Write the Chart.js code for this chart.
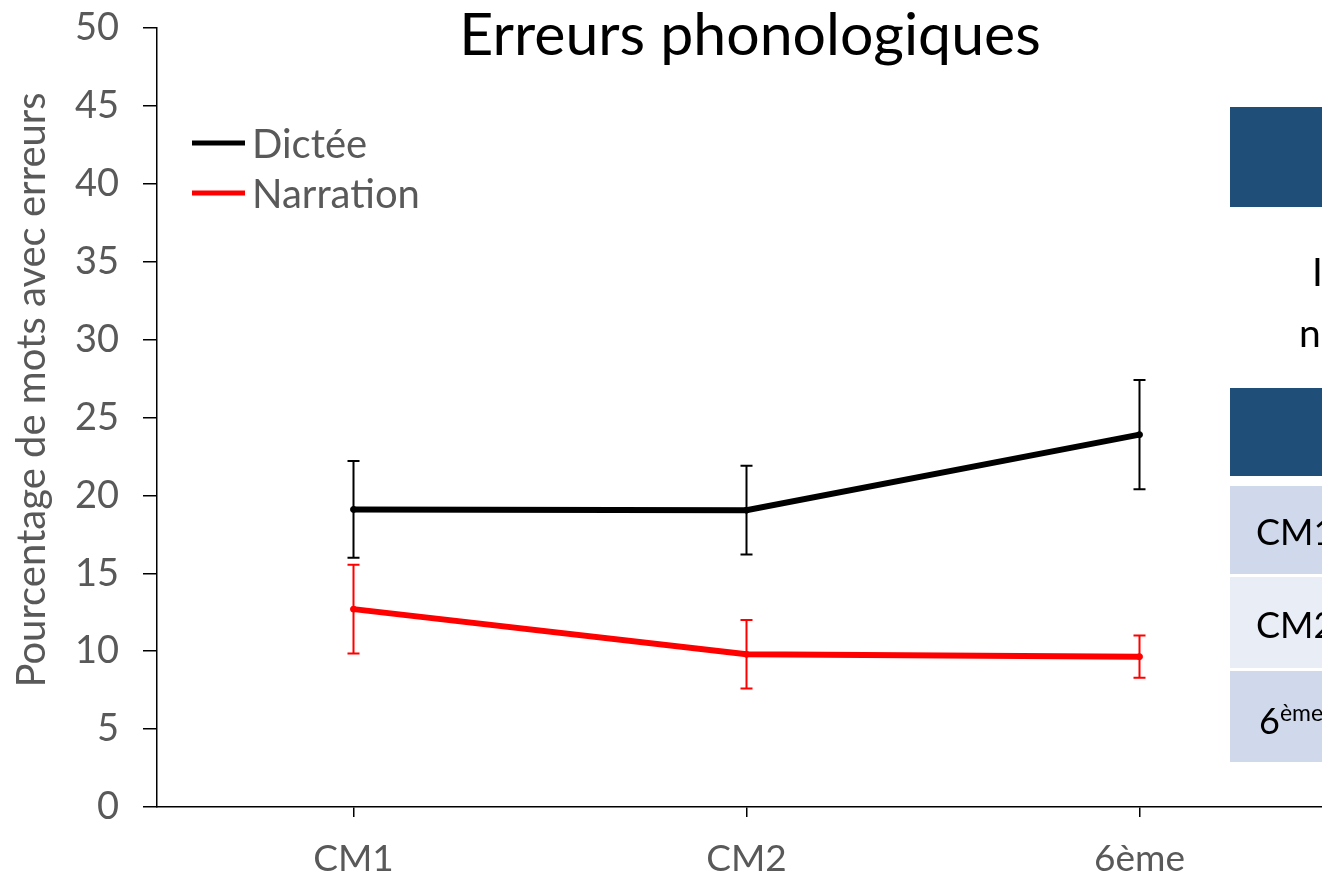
<!DOCTYPE html>
<html lang="fr">
<head>
<meta charset="utf-8">
<script src="https://cdn.jsdelivr.net/npm/chart.js@4.4.1/dist/chart.umd.min.js"></script>
<style>
    html, body { margin: 0; padding: 0; background: #fff; overflow: hidden; width: 1322px; height: 880px; }
    #wrap { position: absolute; left: 0; top: 0; width: 1340px; height: 880px; }
    .panel { position: absolute; font-family: Lato, sans-serif; color: #000; white-space: nowrap; }
    .dark { background: #1f4e79; }
    .rowA { background: #cfd9eb; }
    .rowB { background: #e9edf5; }
    .cell { font-size: 36px; line-height: 1; }
    sup { font-size: 23px; }
</style>
</head>
<body>
<div id="wrap">
    <canvas id="phonoChart" width="1340" height="880"></canvas>
</div>

<!-- side table, cut off at the page edge -->
<div class="panel dark" style="left:1230px; top:107px; width:120px; height:100px;"></div>
<div class="panel cell" style="left:1312px; top:252px; font-size:39px;">Informations</div>
<div class="panel cell" style="left:1299px; top:313px; font-size:39px;">n = 30</div>
<div class="panel dark" style="left:1230px; top:388px; width:120px; height:88px;"></div>
<div class="panel rowA" style="left:1230px; top:486px; width:120px; height:88px;"></div>
<div class="panel rowB" style="left:1230px; top:577px; width:120px; height:91px;"></div>
<div class="panel rowA" style="left:1230px; top:671px; width:120px; height:91px;"></div>
<div class="panel cell" style="left:1256px; top:513px;">CM1</div>
<div class="panel cell" style="left:1256px; top:606px;">CM2</div>
<div class="panel cell" style="left:1259px; top:701px;">6<sup>ème</sup></div>

<script>
const niveaux = ["CM1", "CM2", "6ème"];
const dictee = [19.1, 19.05, 23.9];
const dicteeErr = [3.1, 2.85, 3.5];
const narration = [12.7, 9.8, 9.65];
const narrationErr = [2.85, 2.2, 1.35];
const yTicks = [0, 5, 10, 15, 20, 25, 30, 35, 40, 45, 50];

const GREY = '#595959';
const FONT = 'Lato, sans-serif';

// vertical error bars with small caps
const errorBars = {
    id: 'errorBars',
    afterDatasetsDraw(chart) {
        const ctx = chart.ctx;
        const x = chart.scales.x, y = chart.scales.y;
        chart.data.datasets.forEach(ds => {
            ctx.save();
            ctx.strokeStyle = ds.borderColor;
            ctx.lineWidth = 2;
            ds.data.forEach((v, i) => {
                const px = x.getPixelForValue(i);
                const top = y.getPixelForValue(v + ds.errors[i]);
                const bot = y.getPixelForValue(v - ds.errors[i]);
                ctx.beginPath();
                ctx.moveTo(px, top); ctx.lineTo(px, bot);
                ctx.moveTo(px - 6, top); ctx.lineTo(px + 6, top);
                ctx.moveTo(px - 6, bot); ctx.lineTo(px + 6, bot);
                ctx.stroke();
            });
            ctx.restore();
        });
    }
};

// title, y-axis title and legend drawn by hand
const decorations = {
    id: 'decorations',
    afterDraw(chart) {
        const ctx = chart.ctx;
        ctx.save();
        ctx.fillStyle = '#000';
        ctx.font = `59px ${FONT}`;
        ctx.textAlign = 'center';
        ctx.textBaseline = 'middle';
        ctx.fillText('Erreurs phonologiques', 750, 36);

        ctx.save();
        ctx.translate(32, 390);
        ctx.rotate(-Math.PI / 2);
        ctx.fillStyle = GREY;
        ctx.font = `40px ${FONT}`;
        ctx.fillText('Pourcentage de mots avec erreurs', 0, 0);
        ctx.restore();

        ctx.textAlign = 'left';
        ctx.font = `40px ${FONT}`;
        chart.data.datasets.forEach((ds, i) => {
            const ly = 143 + i * 50;
            ctx.strokeStyle = ds.borderColor;
            ctx.lineWidth = 5;
            ctx.beginPath();
            ctx.moveTo(192, ly); ctx.lineTo(245, ly);
            ctx.stroke();
            ctx.fillStyle = GREY;
            ctx.fillText(ds.label, 252, ly + 2);
        });
        ctx.restore();
    }
};

new Chart(document.getElementById('phonoChart'), {
    type: 'line',
    data: {
        labels: niveaux,
        datasets: [
            { label: 'Dictée', data: dictee, errors: dicteeErr, borderColor: '#000', backgroundColor: '#000' },
            { label: 'Narration', data: narration, errors: narrationErr, borderColor: '#ff0000', backgroundColor: '#ff0000' }
        ]
    },
    options: {
        responsive: false,
        animation: false,
        layout: { padding: { top: 28, left: 0, right: 4, bottom: 0 } },
        elements: {
            line: { borderWidth: 6, tension: 0 },
            point: { radius: 3, hoverRadius: 3 }
        },
        plugins: {
            legend: { display: false },
            title: { display: false },
            tooltip: { enabled: false }
        },
        scales: {
            x: {
                offset: true,
                grid: { offset: false, drawOnChartArea: false, tickLength: 10, color: '#000', lineWidth: 1.5 },
                border: { color: '#000', width: 1.5 },
                ticks: { color: GREY, font: { family: FONT, size: 37 }, padding: 20 },
                afterFit: s => { s.height = 73; s.paddingLeft = 0; s.paddingRight = 0; }
            },
            y: {
                min: 0,
                max: 50,
                afterBuildTicks: s => { s.ticks = yTicks.map(v => ({ value: v })); },
                grid: { drawOnChartArea: false, tickLength: 14, color: '#000', lineWidth: 1.5 },
                border: { color: '#000', width: 1.5 },
                ticks: { color: GREY, font: { family: FONT, size: 38 }, padding: 24 },
                afterFit: s => { s.width = 157; s.paddingTop = 0; s.paddingBottom = 0; }
            }
        }
    },
    plugins: [errorBars, decorations]
});
</script>
</body>
</html>
